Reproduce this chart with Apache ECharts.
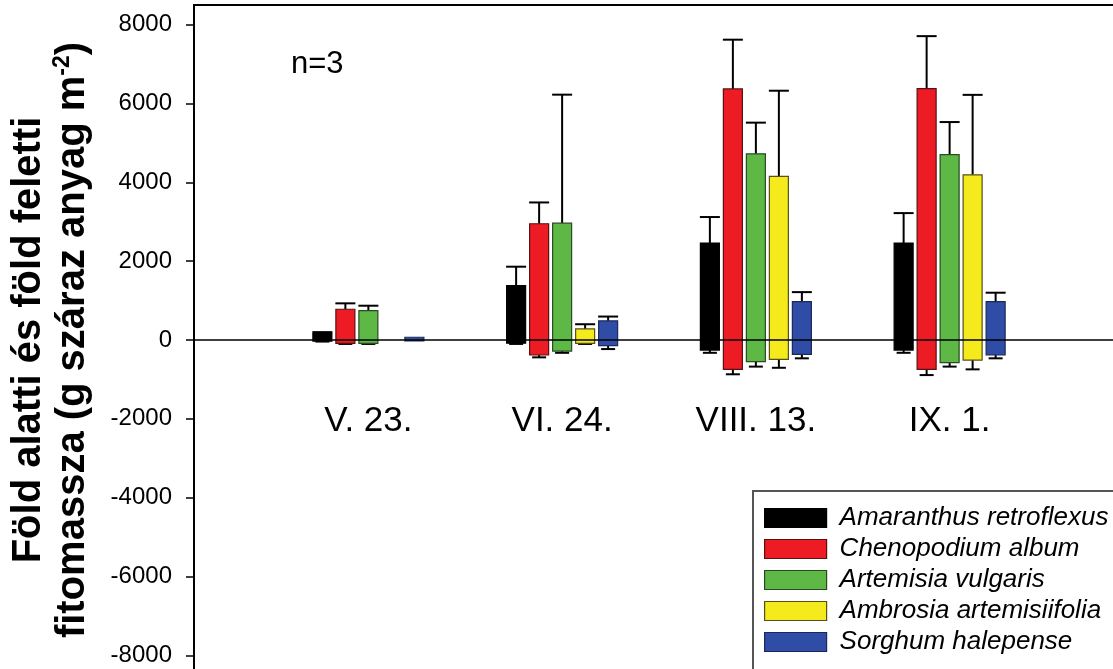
<!DOCTYPE html>
<html>
<head>
<meta charset="utf-8">
<script src="https://cdn.jsdelivr.net/npm/echarts@6/dist/echarts.min.js"></script>
<style>html,body{margin:0;padding:0;background:#fff;}#c{width:1113px;height:669px;}</style>
</head>
<body>
<div id="c"></div>
<script>
// ---- data ----
const categories = ['V. 23.', 'VI. 24.', 'VIII. 13.', 'IX. 1.'];
const groupPos = [1, 2, 3, 4];
const species = ['Amaranthus retroflexus', 'Chenopodium album', 'Artemisia vulgaris', 'Ambrosia artemisiifolia', 'Sorghum halepense'];
const yTicks = [-8000, -6000, -4000, -2000, 0, 2000, 4000, 6000, 8000];

// above-ground biomass (mean, SE) and below-ground biomass (mean as negative, SE)
const amaranthusAbove = [170, 1380, 2460, 2460];
const amaranthusAboveErr = [30, 480, 660, 760];
const amaranthusBelow = [-30, -80, -255, -255];
const amaranthusBelowErr = [10, 20, 70, 70];

const chenopodiumAbove = [780, 2950, 6370, 6380];
const chenopodiumAboveErr = [150, 540, 1250, 1330];
const chenopodiumBelow = [-85, -380, -745, -745];
const chenopodiumBelowErr = [15, 60, 125, 145];

const artemisiaAbove = [745, 2965, 4725, 4705];
const artemisiaAboveErr = [125, 3260, 790, 825];
const artemisiaBelow = [-85, -280, -550, -575];
const artemisiaBelowErr = [15, 45, 125, 100];

const ambrosiaAbove = [0, 280, 4150, 4190];
const ambrosiaAboveErr = [0, 120, 2175, 2030];
const ambrosiaBelow = [0, -85, -490, -510];
const ambrosiaBelowErr = [0, 15, 215, 235];

const sorghumAbove = [70, 485, 975, 975];
const sorghumAboveErr = [0, 110, 240, 225];
const sorghumBelow = [-25, -145, -365, -380];
const sorghumBelowErr = [0, 85, 100, 85];

const seriesData = [
  [amaranthusAbove, amaranthusAboveErr, amaranthusBelow, amaranthusBelowErr],
  [chenopodiumAbove, chenopodiumAboveErr, chenopodiumBelow, chenopodiumBelowErr],
  [artemisiaAbove, artemisiaAboveErr, artemisiaBelow, artemisiaBelowErr],
  [ambrosiaAbove, ambrosiaAboveErr, ambrosiaBelow, ambrosiaBelowErr],
  [sorghumAbove, sorghumAboveErr, sorghumBelow, sorghumBelowErr]
];

// ---- styles ----
const FONT = 'Liberation Sans, Arial, sans-serif';
const colors = ['#000000', '#ED1C24', '#5DB846', '#F4EA1C', '#2F4DA7'];
const borderColors = ['#000000', '#5a1010', '#2a4a22', '#55501a', '#1c2858'];
const BAR_W = 19, STEP = 23, CAP_UP = 20, CAP_DOWN = 14;
const GRID_TOP = 5, GRID_H = 670;

function makeRender(idx) {
  return function (params, api) {
    const x = api.value(0);
    const above = api.value(1), aErr = api.value(2), below = api.value(3), bErr = api.value(4);
    const pTop = api.coord([x, above]);
    const pBot = api.coord([x, below]);
    const cx = pTop[0] + (idx - 2) * STEP;
    const children = [];
    const lineStyle = { stroke: '#000', lineWidth: 2 };
    if (aErr > 0) {
      const pe = api.coord([x, above + aErr]);
      children.push({ type: 'line', shape: { x1: cx, y1: pTop[1], x2: cx, y2: pe[1] }, style: lineStyle });
      children.push({ type: 'line', shape: { x1: cx - CAP_UP / 2, y1: pe[1], x2: cx + CAP_UP / 2, y2: pe[1] }, style: lineStyle });
    }
    if (bErr > 0) {
      const pe = api.coord([x, below - bErr]);
      children.push({ type: 'line', shape: { x1: cx, y1: pBot[1], x2: cx, y2: pe[1] }, style: lineStyle });
      children.push({ type: 'line', shape: { x1: cx - CAP_DOWN / 2, y1: pe[1], x2: cx + CAP_DOWN / 2, y2: pe[1] }, style: lineStyle });
    }
    if (above !== 0 || below !== 0) {
      children.push({
        type: 'rect',
        shape: { x: cx - BAR_W / 2, y: pTop[1], width: BAR_W, height: pBot[1] - pTop[1] },
        style: { fill: colors[idx], stroke: borderColors[idx], lineWidth: 1.2 }
      });
    }
    return { type: 'group', children: children };
  };
}

const series = species.map(function (name, idx) {
  const d = seriesData[idx];
  return {
    name: name,
    type: 'custom',
    renderItem: makeRender(idx),
    itemStyle: { color: colors[idx], borderColor: borderColors[idx], borderWidth: 1.2 },
    encode: { x: 0, y: [1, 3] },
    data: groupPos.map(function (g, i) { return [g, d[0][i], d[1][i], d[2][i], d[3][i]]; }),
    z: 3
  };
});

const chart = echarts.init(document.getElementById('c'), null, { renderer: 'canvas' });
chart.setOption({
  animation: false,
  backgroundColor: '#fff',
  textStyle: { fontFamily: FONT },
  title: {
    text: 'n=3', left: 286, top: 44,
    textStyle: { fontSize: 31, fontWeight: 'normal', color: '#000', fontFamily: FONT }
  },
  grid: {
    left: 194, top: GRID_TOP, width: 930, height: GRID_H,
    containLabel: false, outerBoundsMode: 'none',
    show: true, borderColor: '#000', borderWidth: 2, backgroundColor: 'transparent'
  },
  legend: {
    orient: 'vertical', left: 753, top: 491, height: 170,
    padding: [14, 40, 40, 11],
    borderColor: '#555', borderWidth: 2, backgroundColor: '#fff',
    itemWidth: 62, itemHeight: 19, itemGap: 5,
    icon: 'rect',
    textStyle: { fontSize: 26, fontStyle: 'italic', color: '#000', lineHeight: 26, padding: [0, 0, 0, 8], fontFamily: FONT },
    data: species.map(function (n, i) {
      return { name: n, itemStyle: { color: colors[i], borderColor: borderColors[i], borderWidth: 1.2 } };
    })
  },
  xAxis: {
    type: 'value', min: 0.1, max: 4.9,
    z: 10,
    position: 'bottom',
    offset: -GRID_H / 2,
    axisLine: { onZero: false, lineStyle: { color: '#000', width: 1.5 } },
    axisTick: { show: false },
    splitLine: { show: false },
    axisLabel: {
      customValues: groupPos,
      formatter: function (v) { return categories[groupPos.indexOf(v)] || ''; },
      fontSize: 35, color: '#000', margin: 64,
      fontFamily: FONT
    }
  },
  yAxis: {
    type: 'value', min: -8500, max: 8500,
    axisLine: { show: true, lineStyle: { color: '#000', width: 2 } },
    axisTick: { show: true, inside: false, length: 8, lineStyle: { color: '#000', width: 1.5 }, customValues: yTicks },
    splitLine: { show: false },
    axisLabel: {
      customValues: yTicks, fontSize: 24, color: '#000', margin: 22, fontFamily: FONT,
      formatter: function (v) { return String(v); }
    },
    name: '{a|Föld alatti és föld feletti}\n{a|fitomassza (g száraz anyag m}{s|-2}{a|)}',
    nameLocation: 'middle',
    nameGap: 99,
    nameTextStyle: {
      color: '#000', lineHeight: 44,
      rich: {
        a: { fontSize: 40, fontWeight: 'bold', color: '#000', lineHeight: 44, fontFamily: FONT },
        s: { fontSize: 23, fontWeight: 'bold', color: '#000', verticalAlign: 'top', lineHeight: 44, padding: [0, 0, 16, 0], fontFamily: FONT }
      }
    }
  },
  series: series
});
</script>
</body>
</html>
